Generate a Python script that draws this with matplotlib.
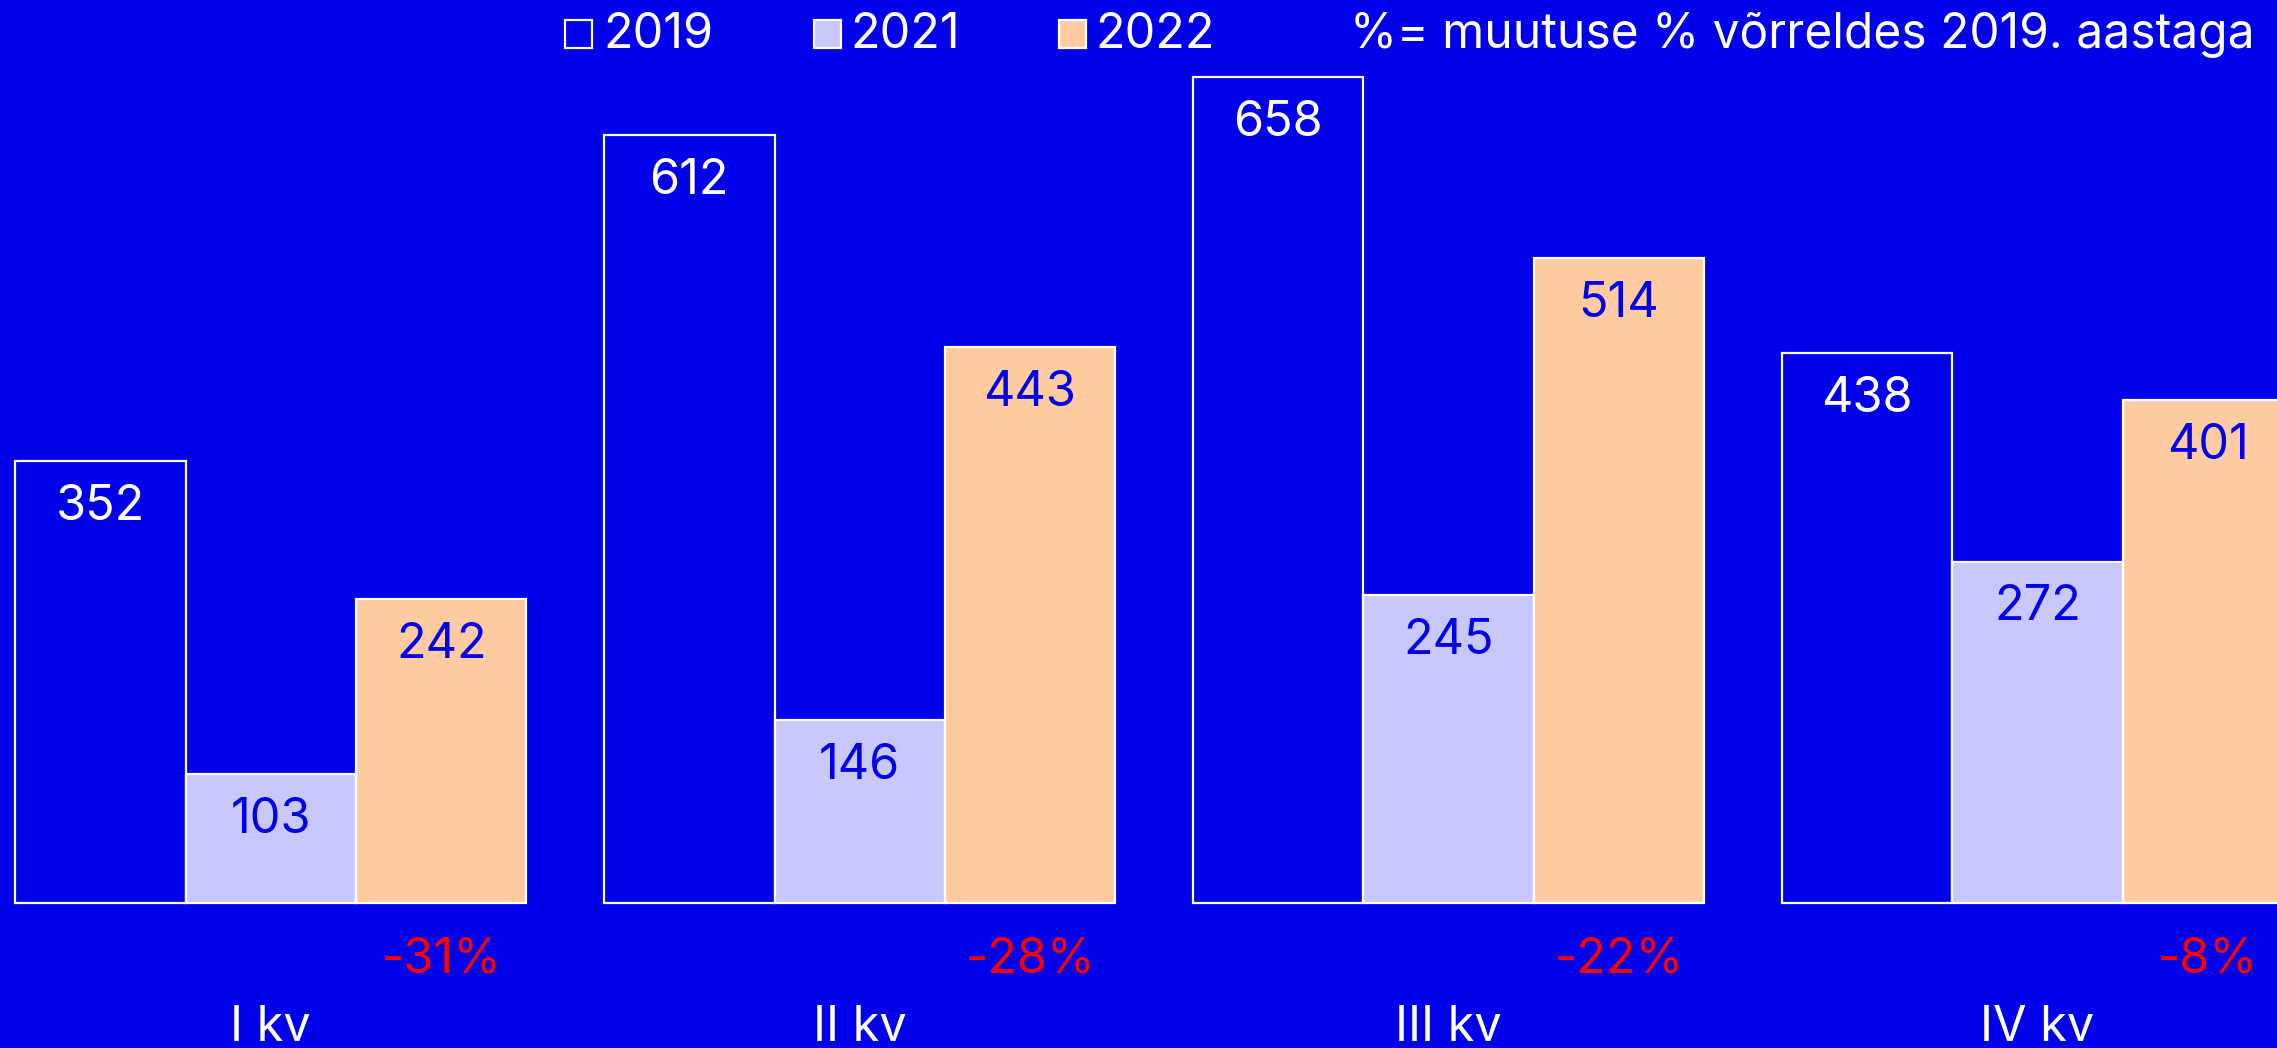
import numpy as np
import matplotlib.pyplot as plt
from matplotlib.patches import Rectangle

# data
categories = ['I kv', 'II kv', 'III kv', 'IV kv']
years = ['2019', '2021', '2022']
v2019 = [352, 612, 658, 438]
v2021 = [103, 146, 245, 272]
v2022 = [242, 443, 514, 401]
change = ['-31%', '-28%', '-22%', '-8%']
note = '%= muutuse % võrreldes 2019. aastaga'

bg = '#0000EB'
c2021 = '#C8C8FC'
c2022 = '#FFCBA0'

plt.rcParams['font.family'] = ['Inter', 'DejaVu Sans']
fs = 35

fig = plt.figure(figsize=(22.77, 10.48), dpi=100, facecolor=bg)
ax = fig.add_axes([0, 0, 1, 1])
ax.set_facecolor(bg)
ax.axis('off')

x = np.arange(len(categories))
w = 0.2893
series = [(v2019, bg, 'white'), (v2021, c2021, bg), (v2022, c2022, bg)]
for i, (vals, col, tcol) in enumerate(series):
    xs = x + (i - 1) * w
    ax.bar(xs, vals, w, color=col, edgecolor='white', linewidth=1.6)
    for xi, v in zip(xs, vals):
        ax.text(xi, v - 47, str(v), ha='center', va='baseline',
                color=tcol, fontsize=fs)

for xi, s in zip(x + w, change):
    ax.text(xi, -55.5, s, ha='center', va='baseline', color='#FF0000', fontsize=fs)

for xi, s in zip(x, categories):
    ax.text(xi, -110, s, ha='center', va='baseline', color='white', fontsize=fs)

ax.set_xlim(-0.46, 3.407)
ax.set_ylim(-115.7, 719.5)

# legend drawn by hand along the top
W, H = 2277, 1048
leg = [(565, 603, years[0], bg), (814, 850, years[1], c2021), (1059, 1095, years[2], c2022)]
for sx, tx, lab, col in leg:
    fig.patches.append(Rectangle((sx / W, 1 - 48 / H), 27 / W, 28 / H,
                                 transform=fig.transFigure, facecolor=col,
                                 edgecolor='white', linewidth=1.6))
    fig.text(tx / W, 1 - 48 / H, lab, color='white', fontsize=fs, va='baseline')
fig.text(1350 / W, 1 - 48 / H, note, color='white', fontsize=34.5, va='baseline')

fig.savefig('out.png', dpi=100, facecolor=bg)
